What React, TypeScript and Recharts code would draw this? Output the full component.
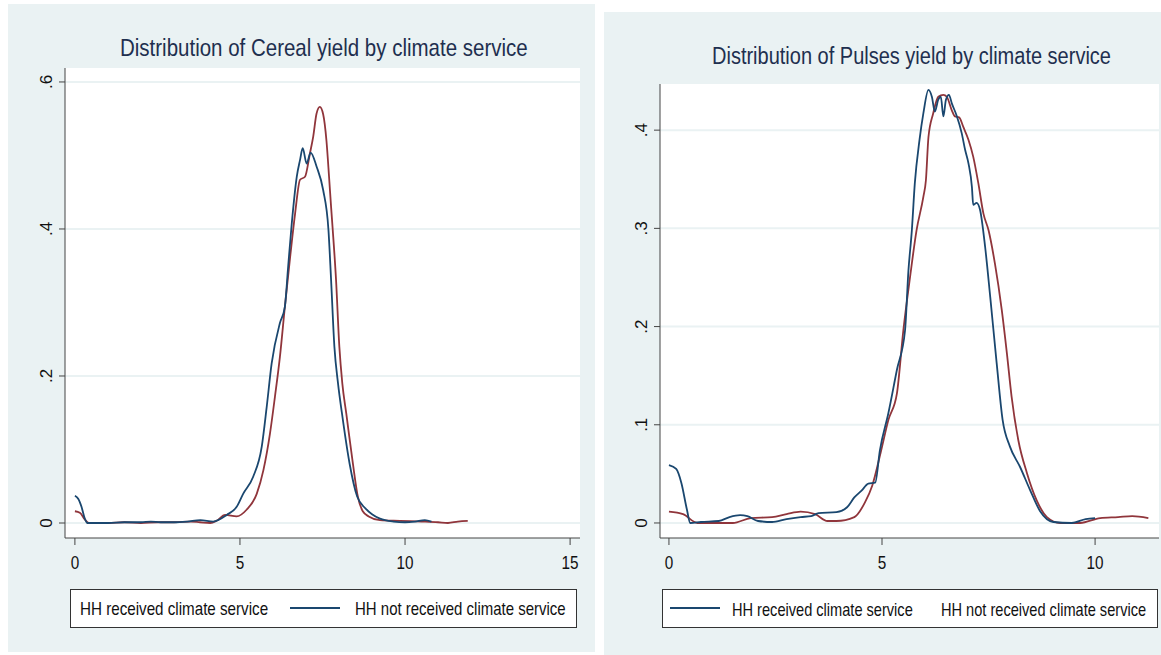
import React from 'react'
import { LineChart, Line, XAxis, YAxis, CartesianGrid } from 'recharts'

// Cereal yield densities (left panel)
const cerealRedX = [0, 0.15, 0.3, 0.42, 1.0, 1.5, 2.0, 2.5, 3.0, 3.5, 3.79, 4.1, 4.29, 4.55, 4.9, 5.2, 5.51, 5.71, 5.91, 6.06, 6.21, 6.36, 6.52, 6.67, 6.82, 6.97, 7.12, 7.22, 7.32, 7.42, 7.52, 7.62, 7.7, 7.76, 7.81, 7.91, 8.01, 8.1, 8.22, 8.42, 8.57, 8.72, 8.9, 9.24, 9.85, 10.5, 11.0, 11.3, 11.6, 11.9]
const cerealRedY = [0.016, 0.014, 0.005, 0, 0, 0.001, 0, 0.001, 0.001, 0.002, 0.001, 0, 0.003, 0.011, 0.009, 0.018, 0.04, 0.072, 0.122, 0.172, 0.226, 0.294, 0.362, 0.421, 0.467, 0.471, 0.503, 0.526, 0.557, 0.566, 0.556, 0.52, 0.47, 0.43, 0.399, 0.331, 0.24, 0.19, 0.149, 0.081, 0.036, 0.016, 0.009, 0.004, 0.003, 0.002, 0.001, 0, 0.002, 0.003]

const cerealBlueX = [0, 0.1, 0.2, 0.3, 0.38, 0.6, 1.0, 1.5, 2.0, 2.3, 2.6, 3.0, 3.4, 3.8, 4.19, 4.6, 4.9, 5.1, 5.4, 5.66, 5.81, 5.96, 6.21, 6.36, 6.46, 6.57, 6.72, 6.82, 6.9, 7.02, 7.14, 7.32, 7.52, 7.68, 7.76, 7.86, 7.97, 8.09, 8.32, 8.55, 8.8, 9.0, 9.24, 9.65, 10.0, 10.3, 10.6, 10.8]
const cerealBlueY = [0.037, 0.033, 0.022, 0.006, 0, 0, 0, 0.001, 0.001, 0.002, 0.001, 0.001, 0.002, 0.004, 0.002, 0.011, 0.022, 0.04, 0.063, 0.104, 0.158, 0.217, 0.272, 0.294, 0.349, 0.408, 0.471, 0.494, 0.51, 0.489, 0.504, 0.485, 0.453, 0.399, 0.331, 0.24, 0.19, 0.149, 0.081, 0.036, 0.02, 0.012, 0.006, 0.002, 0.001, 0.002, 0.004, 0.002]

// Pulses yield densities (right panel)
const pulsesBlueX = [0, 0.17, 0.29, 0.42, 0.5, 0.75, 1.17, 1.42, 1.67, 1.84, 2.09, 2.42, 2.76, 3.09, 3.34, 3.51, 3.93, 4.18, 4.35, 4.52, 4.68, 4.84, 4.95, 5.15, 5.35, 5.54, 5.62, 5.7, 5.77, 5.88, 5.97, 6.09, 6.17, 6.24, 6.32, 6.38, 6.44, 6.5, 6.57, 6.64, 6.75, 6.87, 6.95, 7.03, 7.11, 7.14, 7.22, 7.3, 7.42, 7.54, 7.69, 7.83, 8.0, 8.24, 8.47, 8.71, 9.02, 9.45, 9.78, 10.0]
const pulsesBlueY = [0.059, 0.055, 0.041, 0.014, 0, 0.001, 0.002, 0.006, 0.008, 0.007, 0.002, 0.001, 0.004, 0.006, 0.007, 0.01, 0.011, 0.016, 0.026, 0.033, 0.04, 0.041, 0.074, 0.112, 0.156, 0.196, 0.257, 0.298, 0.346, 0.39, 0.417, 0.441, 0.434, 0.419, 0.431, 0.434, 0.414, 0.431, 0.436, 0.427, 0.415, 0.397, 0.38, 0.366, 0.342, 0.324, 0.326, 0.319, 0.281, 0.23, 0.163, 0.105, 0.078, 0.057, 0.034, 0.012, 0.001, 0, 0.004, 0.005]

const pulsesRedX = [0, 0.33, 0.67, 1.5, 1.92, 2.42, 2.76, 3.09, 3.43, 3.72, 3.93, 4.35, 4.6, 4.77, 4.97, 5.15, 5.35, 5.5, 5.66, 5.81, 5.97, 6.03, 6.09, 6.2, 6.32, 6.44, 6.52, 6.64, 6.71, 6.81, 6.91, 7.03, 7.14, 7.26, 7.38, 7.5, 7.65, 7.81, 7.93, 8.04, 8.2, 8.4, 8.63, 8.87, 9.18, 9.65, 10.12, 10.54, 10.87, 11.25]
const pulsesRedY = [0.0115, 0.009, 0, 0, 0.005, 0.006, 0.009, 0.0115, 0.009, 0.002, 0.002, 0.006, 0.021, 0.038, 0.072, 0.105, 0.132, 0.196, 0.251, 0.298, 0.332, 0.349, 0.393, 0.417, 0.434, 0.436, 0.434, 0.42, 0.414, 0.413, 0.403, 0.39, 0.373, 0.346, 0.315, 0.298, 0.264, 0.217, 0.173, 0.129, 0.084, 0.051, 0.023, 0.006, 0, 0, 0.005, 0.006, 0.007, 0.005]

const cerealXTicks = [0, 5, 10, 15]
const cerealYTicks = [0, 0.2, 0.4, 0.6]
const pulsesXTicks = [0, 5, 10]
const pulsesYTicks = [0, 0.1, 0.2, 0.3, 0.4]

const legendLabels = ['HH received climate service', 'HH not received climate service']

const BLUE = '#1a476f'
const RED = '#90353b'
const BG = '#eaf2f3'
const AXIS = '#444'
const FONT = '"Liberation Sans", Arial, sans-serif'

const zip = (xs: number[], ys: number[]) => xs.map((x, i) => ({ x, y: ys[i] }))

const fmtY = (v: number) => (v === 0 ? '0' : String(v).replace(/^0/, ''))

const YTick = ({ x, y, payload }: any) => (
  <text
    x={x - 10}
    y={y}
    transform={`rotate(-90 ${x - 10} ${y})`}
    textAnchor="middle"
    dominantBaseline="central"
    fontSize={17}
    fontFamily={FONT}
    fill="#111"
  >
    {fmtY(payload.value)}
  </text>
)

const XTick = ({ x, y, payload }: any) => (
  <text
    x={x}
    y={y + 16}
    textAnchor="middle"
    dominantBaseline="central"
    fontSize={18}
    fontFamily={FONT}
    fill="#111"
    transform={`translate(${x} 0) scale(0.85 1) translate(${-x} 0)`}
  >
    {payload.value}
  </text>
)

interface PanelProps {
  left: number
  width: number
  margin: { top: number; right: number; bottom: number; left: number }
  red: { x: number; y: number }[]
  blue: { x: number; y: number }[]
  xDomain: [number, number]
  yDomain: [number, number]
  xTicks: number[]
  yTicks: number[]
}

function Panel({ left, width, margin, red, blue, xDomain, yDomain, xTicks, yTicks }: PanelProps) {
  return (
    <div style={{ position: 'absolute', left, top: 0 }}>
      <LineChart width={width} height={600} margin={margin}>
        <CartesianGrid horizontal vertical={false} fill="#ffffff" stroke={BG} strokeWidth={2} horizontalValues={yTicks} />
        <XAxis
          type="number"
          dataKey="x"
          domain={xDomain}
          ticks={xTicks}
          allowDataOverflow
          interval={0}
          height={40}
          tickSize={7}
          tickLine={{ stroke: AXIS }}
          axisLine={{ stroke: AXIS }}
          tick={<XTick />}
        />
        <YAxis
          type="number"
          dataKey="y"
          domain={yDomain}
          ticks={yTicks}
          allowDataOverflow
          interval={0}
          width={30}
          tickSize={6}
          tickLine={{ stroke: AXIS }}
          axisLine={{ stroke: AXIS }}
          tick={<YTick />}
        />
        <Line data={red} dataKey="y" type="monotone" stroke={RED} strokeWidth={1.8} dot={false} isAnimationActive={false} />
        <Line data={blue} dataKey="y" type="monotone" stroke={BLUE} strokeWidth={1.8} dot={false} isAnimationActive={false} />
      </LineChart>
    </div>
  )
}

// tall, narrow text: font size picked for the width, stretched vertically
const Narrow = ({ x, y, size, sy, fill = '#111', children }: any) => (
  <g transform={`translate(${x} ${y}) scale(1 ${sy})`}>
    <text x={0} y={0} dominantBaseline="central" fontSize={size} fontFamily={FONT} fill={fill}>
      {children}
    </text>
  </g>
)

export default function App() {
  return (
    <div style={{ position: 'absolute', left: 0, top: 0, width: 1161, height: 655, background: '#fff', overflow: 'hidden' }}>
      <div style={{ position: 'absolute', left: 8, top: 4, width: 587, height: 648, background: BG }} />
      <div style={{ position: 'absolute', left: 604, top: 12, width: 557, height: 643, background: BG }} />

      <Panel
        left={0}
        width={595}
        margin={{ top: 68, right: 15, bottom: 22, left: 35 }}
        red={zip(cerealRedX, cerealRedY)}
        blue={zip(cerealBlueX, cerealBlueY)}
        xDomain={[-0.3, 15.3]}
        yDomain={[-0.0204, 0.619]}
        xTicks={cerealXTicks}
        yTicks={cerealYTicks}
      />
      <Panel
        left={600}
        width={561}
        margin={{ top: 84, right: 2, bottom: 22, left: 30 }}
        red={zip(pulsesRedX, pulsesRedY)}
        blue={zip(pulsesBlueX, pulsesBlueY)}
        xDomain={[-0.21, 11.5]}
        yDomain={[-0.0153, 0.447]}
        xTicks={pulsesXTicks}
        yTicks={pulsesYTicks}
      />

      <svg width={1161} height={655} style={{ position: 'absolute', left: 0, top: 0, pointerEvents: 'none' }}>
        <Narrow x={120} y={48} size={20.5} sy={1.15} fill="#1e2f4f">Distribution of Cereal yield by climate service</Narrow>
        <Narrow x={712} y={56} size={20} sy={1.15} fill="#1e2f4f">Distribution of Pulses yield by climate service</Narrow>

        <rect x={70.5} y={589.5} width={506} height={38} fill="#fff" stroke="#333" />
        <Narrow x={80} y={609} size={15.2} sy={1.2}>{legendLabels[0]}</Narrow>
        <line x1={290} x2={340} y1={608} y2={608} stroke={BLUE} strokeWidth={2} />
        <Narrow x={355} y={609} size={15} sy={1.2}>{legendLabels[1]}</Narrow>

        <rect x={662.5} y={589.5} width={495} height={38} fill="#fff" stroke="#333" />
        <line x1={670} x2={720} y1={608} y2={608} stroke={BLUE} strokeWidth={2} />
        <Narrow x={732} y={609} size={14.6} sy={1.2}>{legendLabels[0]}</Narrow>
        <Narrow x={941} y={609} size={14.6} sy={1.2}>{legendLabels[1]}</Narrow>
      </svg>
    </div>
  )
}
